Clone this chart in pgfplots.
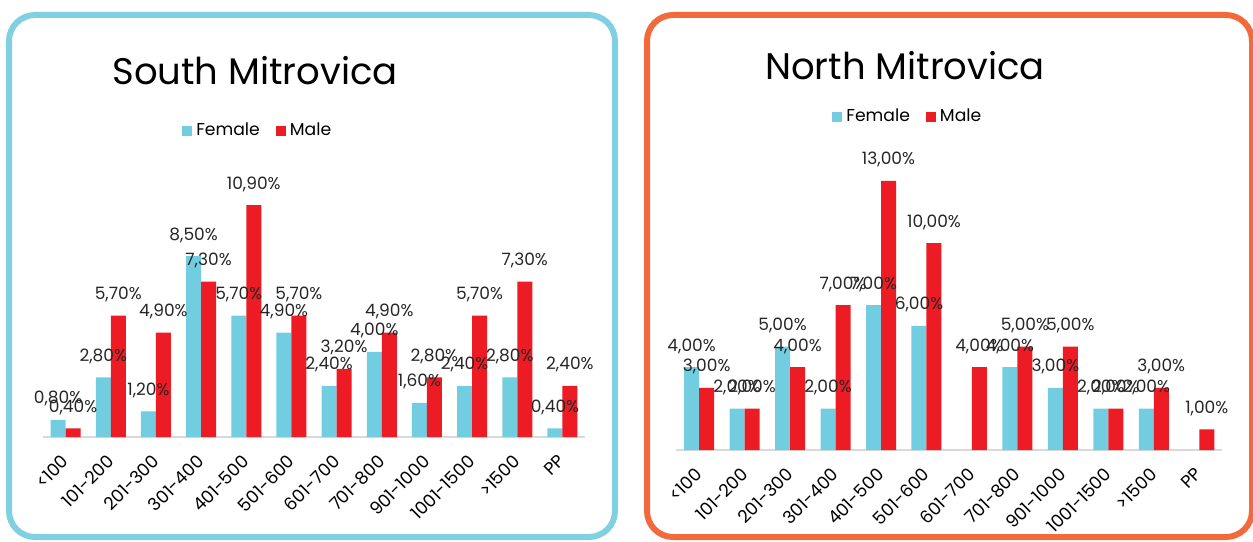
\documentclass[border=0pt]{standalone}
\usepackage{pgfplots}
\pgfplotsset{compat=1.18}
\usepackage{fontspec}
\setmainfont{Poppins}
\definecolor{fem}{HTML}{73CDE0}
\definecolor{mal}{HTML}{ED1C24}
\definecolor{sborder}{HTML}{7ED0E2}
\definecolor{nborder}{HTML}{F26A3B}
\definecolor{baseln}{HTML}{D9D9D9}

\pgfplotsset{
  mitro/.style={
    scale only axis,
    ybar=0pt,
    bar width=7.5pt,
    ymin=0,
    xmin=-0.5, xmax=11.5,
    clip=false,
    axis y line=none,
    axis x line*=bottom,
    x axis line style={-, draw=baseln, line width=1.2pt},
    xtick={0,...,11},
    xticklabels={<100,101-200,201-300,301-400,401-500,501-600,601-700,701-800,901-1000,1001-1500,>1500,PP},
    major tick length=0pt,
    xticklabel style={rotate=45, anchor=north east, inner sep=0pt, font=\fontsize{8.8}{10}\selectfont, xshift=-7.5pt, yshift=-4pt},
    nodes near coords={\pgfmathprintnumber{\pgfplotspointmeta}\%},
    every node near coord/.append style={anchor=base, yshift=8pt, font=\fontsize{8.5}{10}\selectfont, text=black!85},
    /pgf/number format/.cd, fixed, fixed zerofill, precision=2, use comma, assume math mode=true,
    /pgfplots/.cd,
    legend columns=2,
    legend image code/.code={\fill[##1] (0pt,-2.5pt) rectangle (5pt,2.5pt);},
    legend style={draw=none, fill=none, font=\fontsize{8.6}{10}\selectfont, anchor=center,
      /tikz/every even column/.append style={column sep=6pt}, inner sep=0pt},
  }
}

\begin{document}
\begin{tikzpicture}
\path[use as bounding box, clip] (0pt,0pt) rectangle (626.5pt,270.5pt);
% panel borders
\draw[sborder, line width=3pt, rounded corners=13pt] (4.5pt,2pt) rectangle (307.5pt,263pt);
\draw[nborder, line width=3pt, rounded corners=13pt] (323.5pt,2pt) rectangle (626pt,263pt);
% titles
\node[anchor=base, font=\fontsize{18.5}{21}\selectfont] at (127.5pt,228pt) {South Mitrovica};
\node[anchor=base, font=\fontsize{18.5}{21}\selectfont] at (452.5pt,230.5pt) {North Mitrovica};

% South Mitrovica
\begin{axis}[mitro,
  at={(21.5pt,52pt)}, anchor=south west,
  width=271pt, height=127.7pt, ymax=12,
  legend style={at={(axis description cs:0.398,1.198)}},
]
\addplot[fill=fem, draw=none] coordinates {
 (0,0.8) (1,2.8) (2,1.2) (3,8.5) (4,5.7) (5,4.9) (6,2.4) (7,4.0) (8,1.6) (9,2.4) (10,2.8) (11,0.4)};
\addplot[fill=mal, draw=none] coordinates {
 (0,0.4) (1,5.7) (2,4.9) (3,7.3) (4,10.9) (5,5.7) (6,3.2) (7,4.9) (8,2.8) (9,5.7) (10,7.3) (11,2.4)};
\legend{Female,Male}
\end{axis}

% North Mitrovica
\begin{axis}[mitro,
  at={(338.2pt,45.5pt)}, anchor=south west,
  width=272.8pt, height=144.9pt, ymax=14,
  legend style={at={(axis description cs:0.426,1.149)}},
]
\addplot[fill=fem, draw=none] coordinates {
 (0,4) (1,2) (2,5) (3,2) (4,7) (5,6) (7,4) (8,3) (9,2) (10,2)};
\addplot[fill=mal, draw=none] coordinates {
 (0,3) (1,2) (2,4) (3,7) (4,13) (5,10) (6,4) (7,5) (8,5) (9,2) (10,3) (11,1)};
\legend{Female,Male}
\end{axis}
\end{tikzpicture}
\end{document}
